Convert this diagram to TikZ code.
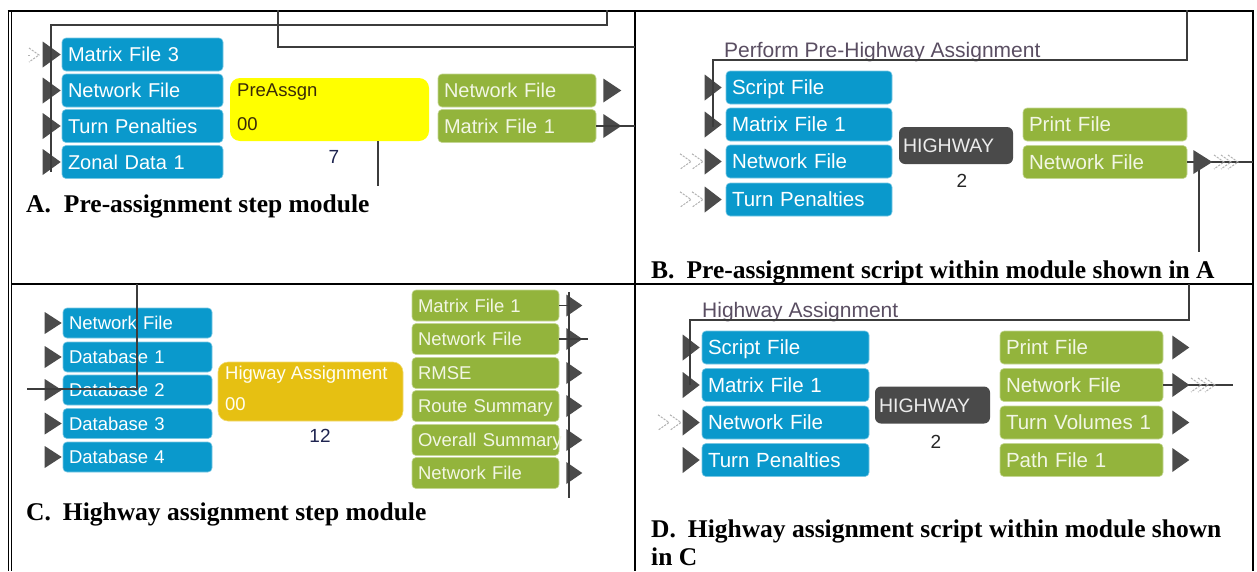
\documentclass[tikz,border=0pt]{standalone}
\usepackage{fontspec}
\setmainfont{Liberation Serif}
\setsansfont{Liberation Sans}
\usetikzlibrary{calc}
\definecolor{boxblue}{HTML}{0A99CC}
\definecolor{boxgreen}{HTML}{93B43C}
\definecolor{boxyellow}{HTML}{FFFF00}
\definecolor{boxgold}{HTML}{E6C012}
\definecolor{boxdark}{HTML}{4A4A4A}
\definecolor{portc}{HTML}{4B4B4B}
\definecolor{wirec}{HTML}{3C3C3C}
\definecolor{titlec}{HTML}{5A4E62}
\definecolor{greentext}{HTML}{F2F6E4}
\definecolor{numc}{HTML}{1E2450}
\definecolor{pretext}{HTML}{3A2A08}
\newcommand{\inport}[4]{\fill[portc] ([xshift=-#2pt]#1.west) -- ++(-#3,-#4) -- ++(0,2*#4) -- cycle;}
\newcommand{\outport}[4]{\fill[portc] ([xshift=#2pt]#1.east) ++(0,-#4) -- ++(#3,#4) -- ++(-#3,#4) -- cycle;}
\newcommand{\chev}[3]{\draw[chevst] (#1-#3,#2-0.7*#3) -- (#1,#2) -- (#1-#3,#2+0.7*#3);}
\tikzset{
 bx/.style={rounded corners=4pt, inner xsep=6pt, inner ysep=0pt, align=left},
 inb/.style={bx, fill=boxblue, draw=boxblue!55!white, line width=0.6pt, text=white},
 outb/.style={bx, fill=boxgreen, draw=boxgreen!55!white, line width=0.6pt, text=greentext},
 fA/.style={font={\sffamily\fontsize{20}{22}\selectfont}, text height=18.3pt, text depth=4pt},
 fB/.style={font={\sffamily\fontsize{20.5}{22}\selectfont}, text height=18.7pt, text depth=4pt},
 fC/.style={font={\sffamily\fontsize{18.5}{21}\selectfont}, text height=17.25pt, text depth=4pt},
 aIn/.style={inb, fA, minimum height=33pt, text width=149pt},
 aOut/.style={outb, fA, minimum height=33pt, text width=146pt},
 bIn/.style={inb, fB, minimum height=33pt, text width=154pt},
 bOut/.style={outb, fB, minimum height=33pt, text width=152pt},
 cIn/.style={inb, fC, minimum height=30pt, text width=137pt},
 cOut/.style={outb, fC, minimum height=31pt, text width=135pt},
 dIn/.style={inb, fB, minimum height=33pt, text width=155pt},
 dOut/.style={outb, fB, minimum height=33pt, text width=151pt},
 hw/.style={fill=boxdark, rounded corners=6pt, minimum height=37pt, inner xsep=4pt, inner ysep=0pt, align=left, text=gray!15, font={\sffamily\fontsize{19.5}{22}\selectfont}, text height=18pt, text depth=4pt},
 txt/.style={inner sep=0pt, anchor=base west},
 num/.style={inner sep=0pt, text=numc, font={\sffamily\fontsize{19}{21}\selectfont}},
 ttl/.style={txt, text=titlec, font={\sffamily\fontsize{21}{23}\selectfont}},
 captxt/.style={txt, font={\rmfamily\bfseries\fontsize{25.5}{28}\selectfont}},
 wire/.style={draw=wirec, line width=1.3pt},
 chevst/.style={draw=gray!60, line width=1pt, dash pattern=on 2.2pt off 1.2pt},
 frame/.style={draw=black, line width=1.2pt}
}
\begin{document}
\begin{tikzpicture}[x=1pt,y=-1pt]
\useasboundingbox (0,0) rectangle (1257,571);
% ---------- frame
\draw[frame, line width=2pt] (7.5,10.5) -- (1253.5,10.5);
\draw[frame, line width=1.1pt] (8.3,10) -- (8.3,571);
\draw[frame, line width=1.1pt] (11.3,10) -- (11.3,571);
\draw[frame] (635,10) -- (635,571);
\draw[frame] (11,284) -- (1253,284);
\draw[frame] (1253,10) -- (1253,571);

% ================= Panel A
\node[aIn] (aM3) at (142.5,54.5) {Matrix File 3};
\node[aIn] (aNF) at (142.5,90.5) {Network File};
\node[aIn] (aTP) at (142.5,126) {Turn Penalties};
\node[aIn] (aZD) at (142.5,162) {Zonal Data 1};
\foreach \n in {aM3,aNF,aTP,aZD} {\inport{\n}{1}{18}{13}}
\chev{39}{55}{10}
\draw[chevst] (28,55) -- (31,55);
\node[fill=boxyellow, rounded corners=10pt, minimum width=199pt, minimum height=63pt, inner sep=0pt] (aPre) at (329.5,109.5) {};
\node[txt, text=pretext, font={\sffamily\fontsize{18.5}{20}\selectfont}] (aPreT) at (237,96) {PreAssgn};
\node[txt, text=pretext, font={\sffamily\fontsize{18.5}{20}\selectfont}] (aPreN) at (237,130) {00};
\node[num] (aNum) at (334,157) {7};
\node[aOut] (aONF) at (517,90.5) {Network File};
\node[aOut] (aOMF) at (517,126) {Matrix File 1};
\outport{aONF}{7}{18}{12}
\outport{aOMF}{7}{18}{12}
\coordinate (aw1) at (51,172);
\coordinate (aw2) at (607,25);
\coordinate (aw3) at (607,10);
\draw[wire] (aw1) |- (aw2) -- (aw3);
\coordinate (aw4) at (278,10);
\coordinate (aw5) at (635,47);
\draw[wire] (aw4) |- (aw5);
\coordinate (aw6) at (378,186);
\draw[wire] (aPre.south -| aw6) -- (aw6);
\coordinate (aw7) at (635,126);
\draw[wire] (aOMF.east) -- (aw7);
\node[captxt] (capA) at (26,212) {A.\hspace{13pt}Pre-assignment step module};

% ================= Panel B
\node[ttl] (bTitle) at (724,57) {Perform Pre-Highway Assignment};
\node[bIn] (bSF) at (809,87.5) {Script File};
\node[bIn] (bMF) at (809,124.5) {Matrix File 1};
\node[bIn] (bNF) at (809,161.5) {Network File};
\node[bIn] (bTP) at (809,199.5) {Turn Penalties};
\foreach \n in {bSF,bMF,bNF,bTP} {\inport{\n}{4}{17}{13}}
\chev{691}{161.5}{11}\chev{703}{161.5}{11}
\chev{691}{199.5}{11}\chev{703}{199.5}{11}
\node[hw, minimum width=114pt, text width=106pt] (bHW) at (956,145.5) {HIGHWAY};
\node[num, text=black!85] (bNum) at (962,181) {2};
\node[bOut] (bPF) at (1105,124.5) {Print File};
\node[bOut] (bONF) at (1105,162) {Network File};
\coordinate (bw1) at (713,127);
\coordinate (bw2) at (1187,60);
\coordinate (bw3) at (1187,10);
\draw[wire] (bw1) |- (bw2) -- (bw3);
\coordinate (bw4) at (1253,162);
\draw[wire] (bONF.east) -- (bw4);
\coordinate (bw5) at (1199,162);
\coordinate (bw6) at (1199,252);
\draw[wire] (bw5) -- (bw6);
\outport{bONF}{6}{19}{12}
\chev{1224}{162}{10}\chev{1231}{162}{10}\chev{1238}{162}{10}
\node[captxt] (capB) at (651,278) {B.\hspace{12pt}Pre-assignment script within module shown in A};

% ================= Panel C
\node[cIn] (cNF) at (137.5,323) {Network File};
\node[cIn] (cD1) at (137.5,357) {Database 1};
\node[cIn] (cD2) at (137.5,390) {Database 2};
\node[cIn] (cD3) at (137.5,423.5) {Database 3};
\node[cIn] (cD4) at (137.5,457) {Database 4};
\foreach \n in {cNF,cD1,cD2,cD3,cD4} {\inport{\n}{1}{17}{11}}
\node[fill=boxgold, draw=boxgold!60!white, line width=0.6pt, rounded corners=10pt, minimum width=185pt, minimum height=59pt, inner sep=0pt] (cHA) at (310.5,391.5) {};
\node[txt, text=white!95!yellow, font={\sffamily\fontsize{18.5}{20}\selectfont}] (cHAT) at (225,379) {Higway Assignment};
\node[txt, text=white!95!yellow, font={\sffamily\fontsize{18.5}{20}\selectfont}] (cHAN) at (225,410) {00};
\node[num] (cNum) at (320,436) {12};
\node[cOut] (cMF) at (485.5,305.5) {Matrix File 1};
\node[cOut] (cONF) at (485.5,339) {Network File};
\node[cOut] (cRM) at (485.5,373) {RMSE};
\node[cOut] (cRS) at (485.5,406) {Route Summary};
\node[cOut] (cOS) at (485.5,440) {\mbox{Overall Summary}};
\node[cOut] (cNF2) at (485.5,473) {Network File};
\foreach \n in {cMF,cONF,cRM,cRS,cOS,cNF2} {\outport{\n}{7}{16}{11}}
\coordinate (cw1) at (137,284);
\coordinate (cw2) at (27,389);
\draw[wire] (cw1) |- (cw2);
\coordinate (cw3) at (569,292);
\coordinate (cw4) at (569,498);
\draw[wire] (cw3) -- (cw4);
\draw[wire] (cMF.east) -- (cMF.east -| cw3);
\coordinate (cw5) at (588,339);
\draw[wire] (cONF.east) -- (cw5);
\node[captxt] (capC) at (26,520) {C.\hspace{12pt}Highway assignment step module};

% ================= Panel D
\node[ttl] (dTitle) at (702,317) {Highway Assignment};
\node[dIn] (dSF) at (785.5,347.5) {Script File};
\node[dIn] (dMF) at (785.5,385) {Matrix File 1};
\node[dIn] (dNF) at (785.5,422.5) {Network File};
\node[dIn] (dTP) at (785.5,460) {Turn Penalties};
\foreach \n in {dSF,dMF,dNF,dTP} {\inport{\n}{2}{17}{13}}
\chev{669}{422.5}{11}\chev{681}{422.5}{11}
\node[hw, minimum width=115pt, text width=107pt] (dHW) at (932.5,405) {HIGHWAY};
\node[num, text=black!85] (dNum) at (936,442) {2};
\node[dOut] (dPF) at (1081.5,347.5) {Print File};
\node[dOut] (dONF) at (1081.5,385) {Network File};
\node[dOut] (dTV) at (1081.5,422.5) {Turn Volumes 1};
\node[dOut] (dPA) at (1081.5,460) {Path File 1};
\coordinate (dw1) at (690,385);
\coordinate (dw2) at (1189,320);
\coordinate (dw3) at (1189,284);
\draw[wire] (dw1) |- (dw2) -- (dw3);
\coordinate (dw4) at (1233,385);
\draw[wire] (dONF.east) -- (dw4);
\foreach \n in {dPF,dONF,dTV,dPA} {\outport{\n}{9}{17}{12}}
\chev{1201}{385}{10}\chev{1208}{385}{10}\chev{1215}{385}{10}
\node[captxt] (capD) at (651,537) {D.\hspace{12pt}Highway assignment script within module shown};
\node[captxt] (capD2) at (651,565) {in C};
\end{tikzpicture}
\end{document}
